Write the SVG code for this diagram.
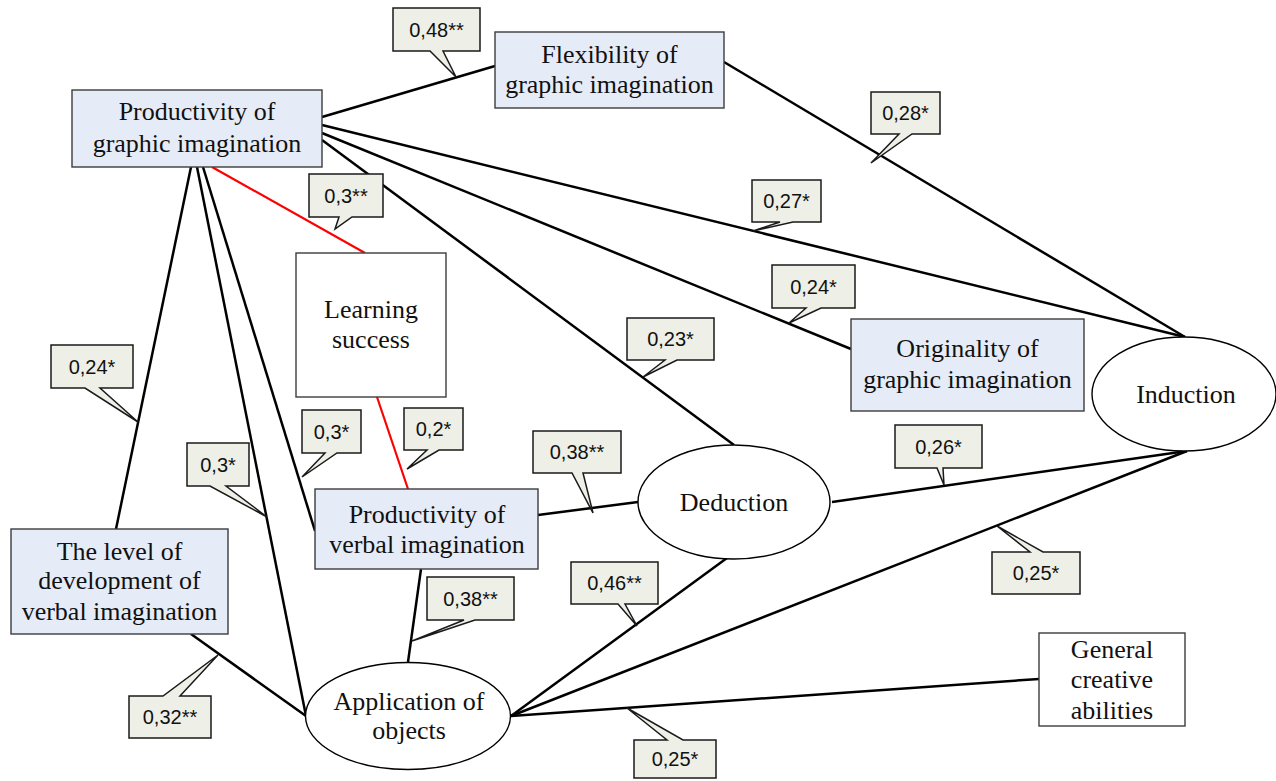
<svg xmlns="http://www.w3.org/2000/svg" width="1276" height="781" viewBox="0 0 1276 781">
<style>
.bg{fill:#ffffff}
.edge{stroke:#000;stroke-width:2.5;fill:none;stroke-linecap:butt}
.red{stroke:#ff0000;stroke-width:2.2;fill:none}
.box{fill:#e6ecf7;stroke:#3c3c3c;stroke-width:1.4}
.wbox{fill:#ffffff;stroke:#3c3c3c;stroke-width:1.4}
.ell{fill:#ffffff;stroke:#000;stroke-width:1.4}
.nt{font-family:"Liberation Serif","Times New Roman",serif;font-size:26px;fill:#111;text-anchor:middle}
.co{fill:#eeefe6;stroke:#1a1a1a;stroke-width:1.5;stroke-linejoin:miter}
.ct{font-family:"Liberation Sans",Arial,sans-serif;font-size:20px;fill:#111;text-anchor:middle}
</style>
<rect class="bg" x="0" y="0" width="1276" height="781"/>
<g id="connectors">
<line class="edge" x1="322" y1="117" x2="495" y2="66"/>
<line class="edge" x1="322" y1="125" x2="1185" y2="337"/>
<line class="edge" x1="322" y1="133" x2="851" y2="349"/>
<line class="edge" x1="322" y1="140" x2="734" y2="445"/>
<line class="red" x1="212" y1="167" x2="365" y2="253"/>
<line class="edge" x1="191" y1="167" x2="116" y2="529"/>
<line class="edge" x1="197" y1="167" x2="306" y2="716"/>
<line class="edge" x1="203" y1="167" x2="315" y2="531"/>
<line class="red" x1="377" y1="397" x2="408" y2="489"/>
<line class="edge" x1="538" y1="515" x2="638" y2="502"/>
<line class="edge" x1="421" y1="569" x2="408" y2="662"/>
<line class="edge" x1="191" y1="634" x2="306" y2="716"/>
<line class="edge" x1="832" y1="502" x2="1187" y2="451"/>
<line class="edge" x1="1187" y1="451" x2="511" y2="716"/>
<line class="edge" x1="727" y1="558" x2="511" y2="716"/>
<line class="edge" x1="511" y1="716" x2="1039" y2="679"/>
<line class="edge" x1="724" y1="62" x2="1185" y2="337"/>
</g>
<g id="pgi"><rect class="box" x="72" y="90" width="250" height="77"/>
<text class="nt" x="197" y="120">Productivity of</text><text class="nt" x="197" y="152">graphic imagination</text></g>
<g id="flex"><rect class="box" x="495" y="32" width="229" height="76"/>
<text class="nt" x="609.5" y="63">Flexibility of</text><text class="nt" x="609.5" y="93">graphic imagination</text></g>
<g id="learning"><rect class="wbox" x="296" y="253" width="150" height="144"/>
<text class="nt" x="371" y="318">Learning</text><text class="nt" x="371" y="348">success</text></g>
<g id="pvi"><rect class="box" x="315" y="489" width="223" height="80"/>
<text class="nt" x="427" y="523">Productivity of</text><text class="nt" x="427" y="553">verbal imagination</text></g>
<g id="orig"><rect class="box" x="851" y="319" width="233" height="92"/>
<text class="nt" x="967.5" y="357">Originality of</text><text class="nt" x="967.5" y="388">graphic imagination</text></g>
<g id="level"><rect class="box" x="11" y="529" width="217" height="105"/>
<text class="nt" x="119.5" y="560">The level of</text><text class="nt" x="119.5" y="589">development of</text><text class="nt" x="119.5" y="620">verbal imagination</text></g>
<g id="deduction"><ellipse class="ell" cx="734" cy="502" rx="96" ry="57"/>
<text class="nt" x="734" y="511">Deduction</text></g>
<g id="induction"><ellipse class="ell" cx="1184" cy="394" rx="92" ry="57"/>
<text class="nt" x="1186" y="403">Induction</text></g>
<g id="application"><ellipse class="ell" cx="408" cy="716" rx="102.5" ry="53.5"/>
<text class="nt" x="409" y="710">Application of</text><text class="nt" x="409" y="739">objects</text></g>
<g id="general"><rect class="wbox" x="1039" y="633" width="146" height="93"/>
<text class="nt" x="1112" y="658">General</text><text class="nt" x="1112" y="688">creative</text><text class="nt" x="1112" y="719">abilities</text></g>
<g id="labels">
<g><path class="co" d="M393,8 H480 V51 H443 L456,77 L430,51 H393 Z"/><text class="ct" x="436.5" y="36.5">0,48**</text></g>
<g><path class="co" d="M309,174 H383 V217 H352 L335,229 L339,217 H309 Z"/><text class="ct" x="346" y="202.5">0,3**</text></g>
<g><path class="co" d="M871,92 H940 V134 H912 L871,163 L899,134 H871 Z"/><text class="ct" x="905.5" y="120">0,28*</text></g>
<g><path class="co" d="M752,180 H821 V222 H793 L753,231 L780,222 H752 Z"/><text class="ct" x="786.5" y="208">0,27*</text></g>
<g><path class="co" d="M51,345 H133 V388 H100 L138,422 L85,388 H51 Z"/><text class="ct" x="92" y="373.5">0,24*</text></g>
<g><path class="co" d="M187,443 H249 V486 H226 L267,517 L210,486 H187 Z"/><text class="ct" x="218" y="471.5">0,3*</text></g>
<g><path class="co" d="M302,410 H361 V453 H337 L302,477 L325,453 H302 Z"/><text class="ct" x="331.5" y="438.5">0,3*</text></g>
<g><path class="co" d="M404,408 H463 V450 H439 L407,469 L427,450 H404 Z"/><text class="ct" x="433.5" y="436">0,2*</text></g>
<g><path class="co" d="M772,265 H855 V308 H821 L789,323 L806,308 H772 Z"/><text class="ct" x="813.5" y="293.5">0,24*</text></g>
<g><path class="co" d="M627,318 H714 V360 H677 L643,377 L665,360 H627 Z"/><text class="ct" x="670.5" y="346">0,23*</text></g>
<g><path class="co" d="M533,431 H621 V473 H583 L593,513 L572,473 H533 Z"/><text class="ct" x="577" y="459">0,38**</text></g>
<g><path class="co" d="M895,425 H982 V468 H943 L944,485 L937,468 H895 Z"/><text class="ct" x="938.5" y="453.5">0,26*</text></g>
<g><path class="co" d="M992,552 H1030 L997,526 L1043,552 H1080 V594 H992 Z"/><text class="ct" x="1036" y="580">0,25*</text></g>
<g><path class="co" d="M427,577 H514 V620 H475 L412,641 L464,620 H427 Z"/><text class="ct" x="470.5" y="605.5">0,38**</text></g>
<g><path class="co" d="M571,562 H658 V604 H625 L637,626 L618,604 H571 Z"/><text class="ct" x="614.5" y="590">0,46**</text></g>
<g><path class="co" d="M129,696 H163 L218,655 L180,696 H211 V738 H129 Z"/><text class="ct" x="170" y="724">0,32**</text></g>
<g><path class="co" d="M634,740 H667 L627,708 L683,740 H716 V778 H634 Z"/><text class="ct" x="675" y="766">0,25*</text></g>
</g>
</svg>
